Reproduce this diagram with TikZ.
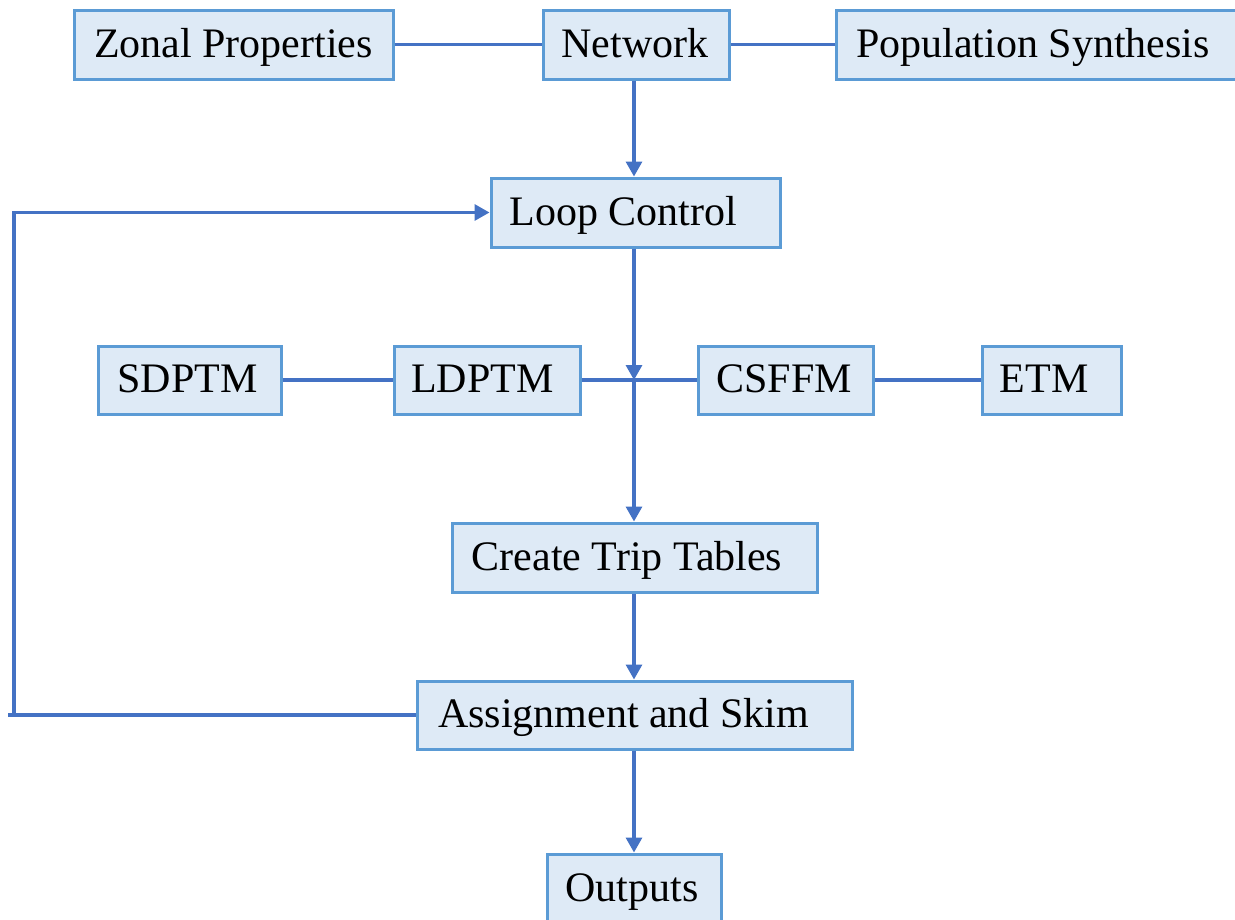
\documentclass[tikz,border=0pt]{standalone}
\usepackage{fontspec}
\setmainfont{Liberation Serif}
\usetikzlibrary{arrows.meta}
\definecolor{boxfill}{HTML}{DEEAF6}
\definecolor{boxline}{HTML}{5B9BD5}
\definecolor{conn}{HTML}{4472C4}
\newcommand{\lft}[2]{#2\hspace*{#1pt}}
\begin{document}
\begin{tikzpicture}[x=1pt,y=-1pt,
  box/.style={draw=boxline,fill=boxfill,line width=3pt,minimum height=69pt,inner sep=0pt,
    text height=34pt,text depth=8.6pt,
    font=\fontsize{42}{50}\selectfont},
  conn/.style={draw=conn,line width=3.2pt},
  arr/.style={conn,-{Triangle[length=15pt,width=16pt]}}]
\useasboundingbox (0,0) rectangle (1235,919);
\node[box,minimum width=319pt] (zonal) at (233.5,44.5) {Zonal Properties};
\node[box,minimum width=186pt] (network) at (636,44.5) {\lft{2}{Network}};
\node[box,minimum width=409pt] (pop) at (1040.5,44.5) {\lft{15}{Population Synthesis}};
\node[box,minimum width=289pt] (loop) at (635.5,212.5) {\lft{24}{Loop Control}};
\node[box,minimum width=183pt,minimum height=68pt] (sdptm) at (189.5,380) {\lft{4}{SDPTM}};
\node[box,minimum width=186pt,minimum height=68pt] (ldptm) at (487,380) {\lft{9}{LDPTM}};
\node[box,minimum width=175pt,minimum height=68pt] (csffm) at (785.5,380) {\lft{3}{CSFFM}};
\node[box,minimum width=139pt,minimum height=68pt] (etm) at (1051.5,380) {\lft{15}{ETM}};
\node[box,minimum width=365pt] (create) at (634.5,557.5) {\lft{15}{Create Trip Tables}};
\node[box,minimum width=435pt,minimum height=68pt] (assign) at (634.5,715) {\lft{22}{Assignment and Skim}};
\node[box,minimum width=174pt,minimum height=70pt] (outputs) at (634,889) {\lft{4}{Outputs}};
\coordinate (j) at (634,380);
\coordinate (fbend) at (8,715);
\coordinate (fb) at (14,715);
\coordinate (ft) at (14,212.5);
\draw[conn] (zonal.east) -- (network.west);
\draw[conn] (network.east) -- (pop.west);
\draw[arr] (network.south -| j) -- (loop.north -| j);
\draw[conn] (sdptm.east) -- (ldptm.west);
\draw[conn] (ldptm.east) -- (csffm.west);
\draw[conn] (csffm.east) -- (etm.west);
\draw[arr] (loop.south -| j) -- (j);
\draw[arr] (j) -- (create.north -| j);
\draw[arr] (create.south -| j) -- (assign.north -| j);
\draw[arr] (assign.south -| j) -- (outputs.north -| j);
\draw[conn] (assign.west) -- (fbend);
\draw[arr] (fb) -- (ft) -- (loop.west);
\end{tikzpicture}
\end{document}
